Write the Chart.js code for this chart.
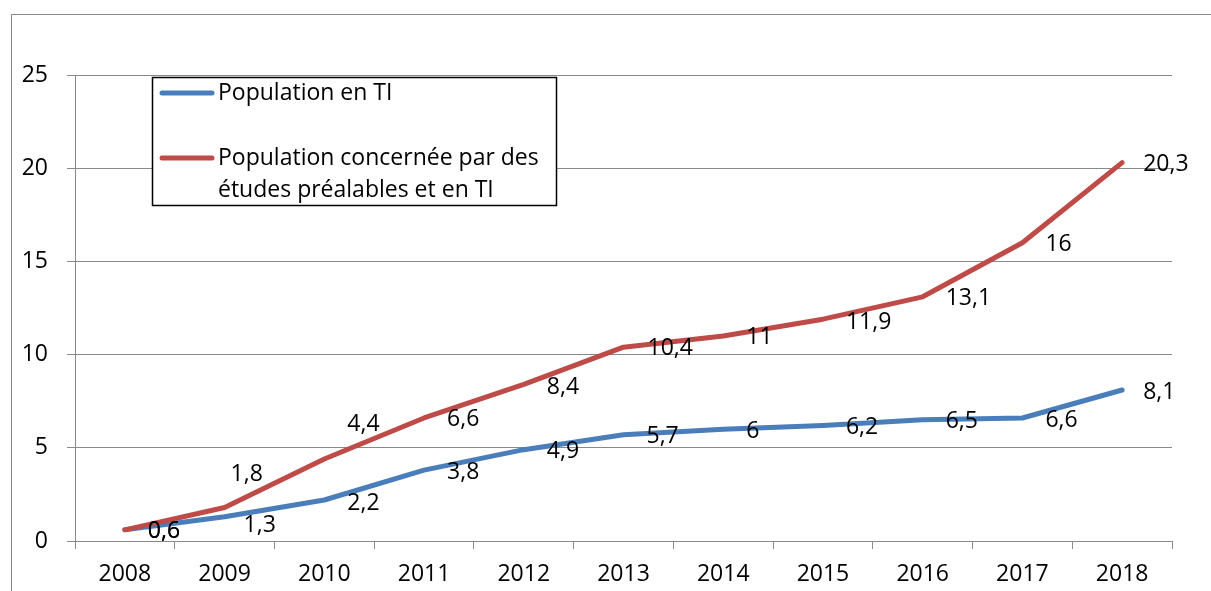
<!DOCTYPE html>
<html><head><meta charset="utf-8">
<script src="https://cdn.jsdelivr.net/npm/chart.js@4/dist/chart.umd.min.js"></script>
<style>html,body{margin:0;padding:0;background:#fff}#wrap{width:1211px;height:591px;position:relative}</style>
</head><body><div id="wrap"><canvas id="c" width="1211" height="591"></canvas></div>
<script>
// ---- data ----
const years = ['2008','2009','2010','2011','2012','2013','2014','2015','2016','2017','2018'];
const seriesNames = ['Population en TI', 'Population concernée par des études préalables et en TI'];
const legendLines = [['Population en TI'], ['Population concernée par des', 'études préalables et en TI']];
const popTI = [0.6, 1.3, 2.2, 3.8, 4.9, 5.7, 6, 6.2, 6.5, 6.6, 8.1];
const popEtudes = [0.6, 1.8, 4.4, 6.6, 8.4, 10.4, 11, 11.9, 13.1, 16, 20.3];
const yTicks = [0, 5, 10, 15, 20, 25];

// ---- label placement (offsets from point: left edge dx, centre dy) ----
const labelOffsetsTI = [[23,2],[19,9],[23,3],[23,2],[23,2],[23,2],[23,2],[23,2],[23,2],[23,2],[21,2]];
const labelOffsetsEtudes = [[23,2],[6,-33],[23,-35],[23,1],[23,3],[24,1],[23,1],[23,3],[23,2],[23,2],[21,2]];

const FONT = '"Open Sans"';
const FSIZE = 23;
const GRID = '#898989';
const BLUE = '#4A7EBB';
const RED = '#BE4B48';

const frame = {
  id: 'frame',
  beforeDraw(chart) {
    const ctx = chart.ctx;
    ctx.save();
    ctx.fillStyle = '#fff';
    ctx.fillRect(0, 0, chart.width, chart.height);
    ctx.strokeStyle = GRID;
    ctx.lineWidth = 1;
    ctx.strokeRect(11.5, 14.5, 1300, 700);
    ctx.restore();
  }
};

const labelsPlugin = {
  id: 'valueLabels',
  afterDatasetsDraw(chart) {
    const ctx = chart.ctx;
    ctx.save();
    ctx.font = FSIZE + 'px ' + FONT;
    ctx.fillStyle = '#000';
    ctx.textAlign = 'left';
    ctx.textBaseline = 'middle';
    const offs = [labelOffsetsTI, labelOffsetsEtudes];
    [0, 1].forEach(di => {
      const meta = chart.getDatasetMeta(di);
      const data = chart.data.datasets[di].data;
      meta.data.forEach((pt, i) => {
        const o = offs[di][i];
        ctx.fillText(String(data[i]).replace('.', ','), pt.x + o[0], pt.y + o[1]);
      });
    });
    ctx.restore();
  }
};

const legendPlugin = {
  id: 'boxLegend',
  afterDraw(chart) {
    const ctx = chart.ctx;
    ctx.save();
    ctx.fillStyle = '#fff';
    ctx.fillRect(152, 77, 405, 129);
    ctx.strokeStyle = '#000';
    ctx.lineWidth = 1.5;
    ctx.strokeRect(152.5, 77.5, 404, 128);
    const rows = [93, 158];
    chart.data.datasets.forEach((ds, i) => {
      const y = rows[i];
      ctx.strokeStyle = ds.borderColor;
      ctx.lineWidth = 5;
      ctx.lineCap = 'round';
      ctx.beginPath();
      ctx.moveTo(162, y);
      ctx.lineTo(212, y);
      ctx.stroke();
      ctx.fillStyle = '#000';
      ctx.font = FSIZE + 'px ' + FONT;
      ctx.textAlign = 'left';
      ctx.textBaseline = 'middle';
      legendLines[i].forEach((t, k) => ctx.fillText(t, 218, y + k * 32));
    });
    ctx.restore();
  }
};

new Chart(document.getElementById('c'), {
  type: 'line',
  data: {
    labels: years,
    datasets: [
      { label: seriesNames[0], data: popTI, borderColor: BLUE, backgroundColor: BLUE, borderWidth: 5,
        pointRadius: 0, tension: 0, borderCapStyle: 'round', borderJoinStyle: 'round', order: 1 },
      { label: seriesNames[1], data: popEtudes, borderColor: RED, backgroundColor: RED, borderWidth: 5,
        pointRadius: 0, tension: 0, borderCapStyle: 'round', borderJoinStyle: 'round', order: 0 }
    ]
  },
  options: {
    responsive: false,
    devicePixelRatio: 1,
    animation: false,
    layout: { padding: { left: 0, top: 75, right: 39, bottom: 0 } },
    plugins: { legend: { display: false }, tooltip: { enabled: false } },
    scales: {
      x: {
        offset: true,
        grid: { display: true, drawOnChartArea: false, offset: true, tickLength: 8, color: GRID, lineWidth: 1 },
        border: { display: true, color: GRID, width: 1 },
        ticks: { color: '#000', font: { family: FONT, size: FSIZE }, padding: 12, maxRotation: 0, autoSkip: false },
        afterFit(s) { s.height = 50; }
      },
      y: {
        min: 0, max: 25,
        afterBuildTicks(s) { s.ticks = yTicks.map(v => ({ value: v })); },
        grid: { color: GRID, lineWidth: 1, tickLength: 8 },
        border: { display: true, color: GRID, width: 1 },
        ticks: { color: '#000', font: { family: FONT, size: FSIZE }, padding: 19 },
        afterFit(s) { s.width = 75; }
      }
    }
  },
  plugins: [frame, labelsPlugin, legendPlugin]
});
</script>
</body></html>
